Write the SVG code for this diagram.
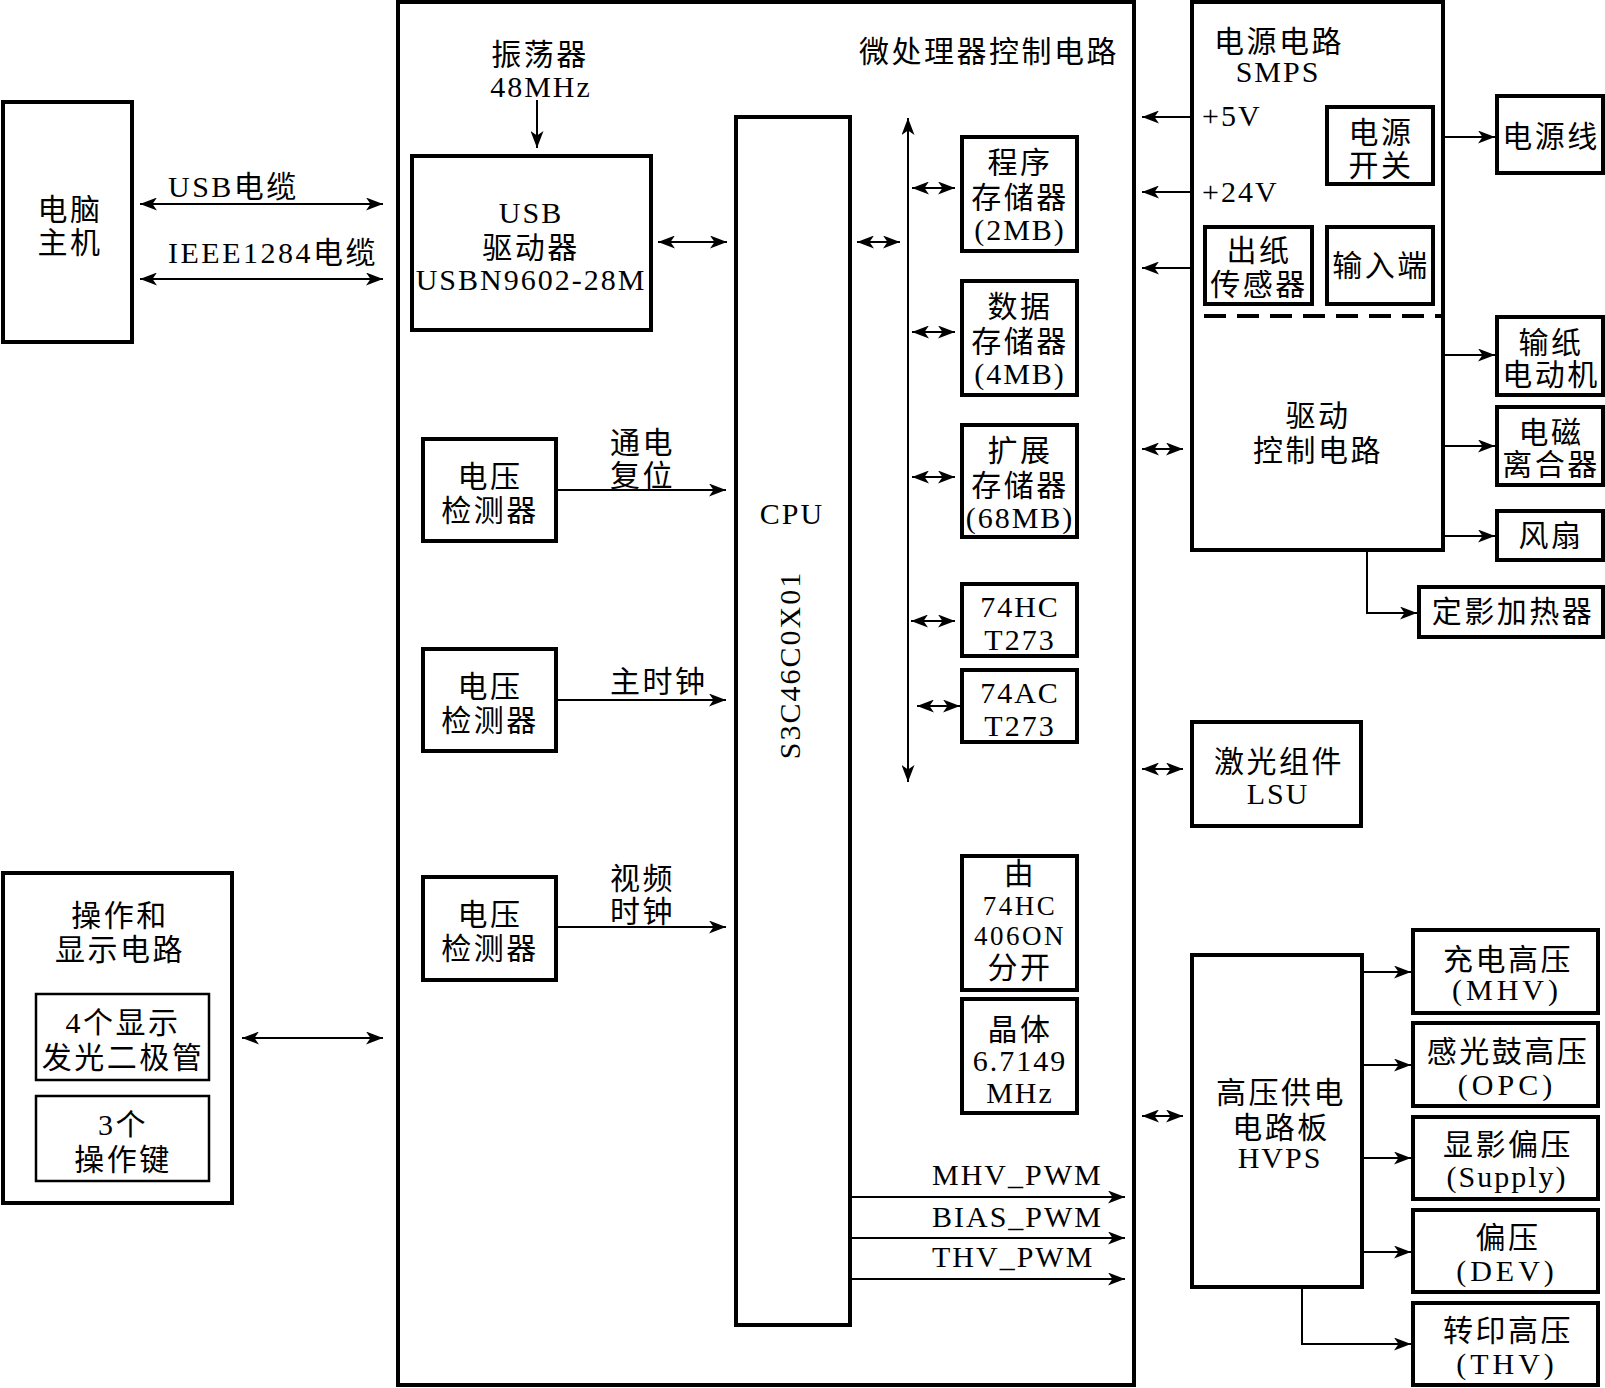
<svg xmlns="http://www.w3.org/2000/svg" width="1605" height="1388" viewBox="0 0 1605 1388">
<style>
  .b{fill:#fff;stroke:#000;stroke-width:4}
  .bt{fill:none;stroke:#000;stroke-width:2.5}
  .c{fill:none;stroke:#000;stroke-width:2}
  .t{font-family:"Liberation Serif","Noto Sans CJK SC",serif;font-size:30px;fill:#000;text-anchor:middle;letter-spacing:2px}
  .z{letter-spacing:2.5px}
  .l{text-anchor:start}
  .s{font-size:27px;letter-spacing:2.5px}
</style>
<defs>
  <marker id="a" viewBox="0 0 17 13" refX="17" refY="6.5" markerWidth="17" markerHeight="13" markerUnits="userSpaceOnUse" orient="auto-start-reverse">
    <path d="M0,0 L17,6.5 L0,13 L4.5,6.5 z" fill="#000"/>
  </marker>
</defs>
<rect width="1605" height="1388" fill="#fff"/>

<g id="computer">
  <rect class="b" x="3" y="102" width="129" height="240"/>
  <text class="t z" x="70" y="220">电脑</text>
  <text class="t z" x="70" y="253">主机</text>
</g>

<g id="main">
  <rect class="b" x="398" y="2" width="736" height="1383"/>
  <text class="t z" x="989" y="62">微处理器控制电路</text>
</g>

<g id="osc">
  <text class="t z" x="540" y="65">振荡器</text>
  <text class="t" x="541" y="97">48MHz</text>
</g>

<g id="usb">
  <rect class="b" x="412" y="156" width="239" height="174"/>
  <text class="t" x="531" y="223">USB</text>
  <text class="t z" x="531" y="258">驱动器</text>
  <text class="t" x="531" y="290">USBN9602-28M</text>
</g>

<g id="vd1">
  <rect class="b" x="423" y="439" width="133" height="102"/>
  <text class="t z" x="490" y="487">电压</text>
  <text class="t z" x="490" y="521">检测器</text>
</g>
<g id="vd2">
  <rect class="b" x="423" y="649" width="133" height="102"/>
  <text class="t z" x="490" y="697">电压</text>
  <text class="t z" x="490" y="731">检测器</text>
</g>
<g id="vd3">
  <rect class="b" x="423" y="877" width="133" height="103"/>
  <text class="t z" x="490" y="925">电压</text>
  <text class="t z" x="490" y="959">检测器</text>
</g>

<g id="cpu">
  <rect class="b" x="736" y="117" width="114" height="1208"/>
  <text class="t" x="792" y="524">CPU</text>
  <text class="t" transform="translate(800,665) rotate(-90)" x="0" y="0">S3C46C0X01</text>
</g>

<g id="mem-prog">
  <rect class="b" x="962" y="137" width="115" height="114"/>
  <text class="t z" x="1020" y="173">程序</text>
  <text class="t z" x="1020" y="208">存储器</text>
  <text class="t" x="1020" y="240">(2MB)</text>
</g>
<g id="mem-data">
  <rect class="b" x="962" y="281" width="115" height="114"/>
  <text class="t z" x="1020" y="317">数据</text>
  <text class="t z" x="1020" y="352">存储器</text>
  <text class="t" x="1020" y="384">(4MB)</text>
</g>
<g id="mem-ext">
  <rect class="b" x="962" y="425" width="115" height="112"/>
  <text class="t z" x="1020" y="461">扩展</text>
  <text class="t z" x="1020" y="496">存储器</text>
  <text class="t" x="1020" y="528">(68MB)</text>
</g>
<g id="hct273">
  <rect class="b" x="962" y="584" width="115" height="72"/>
  <text class="t" x="1020" y="617">74HC</text>
  <text class="t" x="1020" y="650">T273</text>
</g>
<g id="act273">
  <rect class="b" x="962" y="670" width="115" height="72"/>
  <text class="t" x="1020" y="703">74AC</text>
  <text class="t" x="1020" y="736">T273</text>
</g>
<g id="hc4060">
  <rect class="b" x="962" y="856" width="115" height="134"/>
  <text class="t z" x="1020" y="884">由</text>
  <text class="t s" x="1020" y="915">74HC</text>
  <text class="t s" x="1020" y="945">406ON</text>
  <text class="t z" x="1020" y="978">分开</text>
</g>
<g id="crystal">
  <rect class="b" x="962" y="999" width="115" height="114"/>
  <text class="t z" x="1020" y="1040">晶体</text>
  <text class="t" x="1020" y="1071">6.7149</text>
  <text class="t" x="1020" y="1103">MHz</text>
</g>

<g id="smps-drive">
  <rect class="b" x="1192" y="2" width="251" height="548"/>
  <line x1="1196" y1="316" x2="1441" y2="316" stroke="#000" stroke-width="4" stroke-dasharray="22 11" stroke-dashoffset="-8"/>
  <text class="t z" x="1279" y="52">电源电路</text>
  <text class="t" x="1278" y="82">SMPS</text>
  <text class="t l" x="1202" y="126">+5V</text>
  <text class="t l" x="1202" y="202">+24V</text>
  <text class="t z" x="1318" y="426">驱动</text>
  <text class="t z" x="1318" y="461">控制电路</text>
</g>
<g id="pswitch">
  <rect class="b" x="1327" y="107" width="106" height="77"/>
  <text class="t z" x="1381" y="143">电源</text>
  <text class="t z" x="1381" y="176">开关</text>
</g>
<g id="paper-sensor">
  <rect class="b" x="1205" y="227" width="107" height="77"/>
  <text class="t z" x="1259" y="261">出纸</text>
  <text class="t z" x="1259" y="295">传感器</text>
</g>
<g id="input">
  <rect class="b" x="1327" y="227" width="106" height="77"/>
  <text class="t z" x="1381" y="276">输入端</text>
</g>
<g id="powerline">
  <rect class="b" x="1497" y="96" width="106" height="77"/>
  <text class="t z" x="1551" y="147">电源线</text>
</g>
<g id="motor">
  <rect class="b" x="1497" y="317" width="106" height="78"/>
  <text class="t z" x="1551" y="353">输纸</text>
  <text class="t z" x="1551" y="385">电动机</text>
</g>
<g id="clutch">
  <rect class="b" x="1497" y="407" width="106" height="78"/>
  <text class="t z" x="1551" y="443">电磁</text>
  <text class="t z" x="1551" y="475">离合器</text>
</g>
<g id="fan">
  <rect class="b" x="1497" y="511" width="106" height="49"/>
  <text class="t z" x="1551" y="546">风扇</text>
</g>
<g id="heater">
  <rect class="b" x="1419" y="587" width="184" height="50"/>
  <text class="t z" x="1513" y="622">定影加热器</text>
</g>

<g id="lsu">
  <rect class="b" x="1192" y="722" width="169" height="104"/>
  <text class="t z" x="1279" y="772">激光组件</text>
  <text class="t" x="1278" y="804">LSU</text>
</g>

<g id="hvps">
  <rect class="b" x="1192" y="955" width="170" height="332"/>
  <text class="t z" x="1281" y="1103">高压供电</text>
  <text class="t z" x="1281" y="1138">电路板</text>
  <text class="t" x="1280" y="1168">HVPS</text>
</g>
<g id="mhv">
  <rect class="b" x="1413" y="930" width="185" height="83"/>
  <text class="t z" x="1508" y="970">充电高压</text>
  <text class="t" x="1507" y="1000" style="letter-spacing:4px">(MHV)</text>
</g>
<g id="opc">
  <rect class="b" x="1413" y="1023" width="185" height="83"/>
  <text class="t z" x="1508" y="1062">感光鼓高压</text>
  <text class="t" x="1507" y="1095" style="letter-spacing:4px">(OPC)</text>
</g>
<g id="supply">
  <rect class="b" x="1413" y="1117" width="185" height="82"/>
  <text class="t z" x="1508" y="1155">显影偏压</text>
  <text class="t" x="1507" y="1187">(Supply)</text>
</g>
<g id="dev">
  <rect class="b" x="1413" y="1210" width="185" height="82"/>
  <text class="t z" x="1508" y="1248">偏压</text>
  <text class="t" x="1507" y="1281" style="letter-spacing:4px">(DEV)</text>
</g>
<g id="thv">
  <rect class="b" x="1413" y="1303" width="185" height="82"/>
  <text class="t z" x="1508" y="1341">转印高压</text>
  <text class="t" x="1507" y="1374" style="letter-spacing:4px">(THV)</text>
</g>

<g id="panel">
  <rect class="b" x="3" y="873" width="229" height="330"/>
  <text class="t z" x="120" y="926">操作和</text>
  <text class="t z" x="120" y="960">显示电路</text>
  <rect class="bt" x="36" y="994" width="173" height="86"/>
  <text class="t z" x="123" y="1033">4个显示</text>
  <text class="t z" x="123" y="1068">发光二极管</text>
  <rect class="bt" x="36" y="1096" width="173" height="85"/>
  <text class="t z" x="123" y="1135">3个</text>
  <text class="t z" x="123" y="1170">操作键</text>
</g>

<g id="labels">
  <text class="t z l" x="168" y="197">USB电缆</text>
  <text class="t z l" x="168" y="263">IEEE1284电缆</text>
  <text class="t z l" x="610" y="453">通电</text>
  <text class="t z l" x="610" y="486">复位</text>
  <text class="t z l" x="610" y="692">主时钟</text>
  <text class="t z l" x="610" y="889">视频</text>
  <text class="t z l" x="610" y="922">时钟</text>
  <text class="t l" x="932" y="1185">MHV_PWM</text>
  <text class="t l" x="932" y="1227">BIAS_PWM</text>
  <text class="t l" x="932" y="1267">THV_PWM</text>
</g>

<g id="connectors">
  <line class="c" x1="140" y1="204" x2="383" y2="204" marker-start="url(#a)" marker-end="url(#a)"/>
  <line class="c" x1="140" y1="279" x2="383" y2="279" marker-start="url(#a)" marker-end="url(#a)"/>
  <line class="c" x1="242" y1="1038" x2="383" y2="1038" marker-start="url(#a)" marker-end="url(#a)"/>
  <line class="c" x1="537" y1="100" x2="537" y2="148" marker-end="url(#a)"/>
  <line class="c" x1="658" y1="242" x2="727" y2="242" marker-start="url(#a)" marker-end="url(#a)"/>
  <line class="c" x1="556" y1="490" x2="726" y2="490" marker-end="url(#a)"/>
  <line class="c" x1="556" y1="700" x2="726" y2="700" marker-end="url(#a)"/>
  <line class="c" x1="556" y1="927" x2="726" y2="927" marker-end="url(#a)"/>
  <line class="c" x1="857" y1="242" x2="900" y2="242" marker-start="url(#a)" marker-end="url(#a)"/>
  <line class="c" x1="908" y1="118" x2="908" y2="782" marker-start="url(#a)" marker-end="url(#a)"/>
  <line class="c" x1="912" y1="188" x2="955" y2="188" marker-start="url(#a)" marker-end="url(#a)"/>
  <line class="c" x1="912" y1="332" x2="955" y2="332" marker-start="url(#a)" marker-end="url(#a)"/>
  <line class="c" x1="912" y1="477" x2="955" y2="477" marker-start="url(#a)" marker-end="url(#a)"/>
  <line class="c" x1="911" y1="621" x2="955" y2="621" marker-start="url(#a)" marker-end="url(#a)"/>
  <line class="c" x1="917" y1="706" x2="960" y2="706" marker-start="url(#a)" marker-end="url(#a)"/>
  <line class="c" x1="850" y1="1197" x2="1125" y2="1197" marker-end="url(#a)"/>
  <line class="c" x1="850" y1="1238" x2="1125" y2="1238" marker-end="url(#a)"/>
  <line class="c" x1="850" y1="1279" x2="1125" y2="1279" marker-end="url(#a)"/>
  <line class="c" x1="1190" y1="117" x2="1142" y2="117" marker-end="url(#a)"/>
  <line class="c" x1="1190" y1="192" x2="1142" y2="192" marker-end="url(#a)"/>
  <line class="c" x1="1190" y1="268" x2="1142" y2="268" marker-end="url(#a)"/>
  <line class="c" x1="1142" y1="449" x2="1183" y2="449" marker-start="url(#a)" marker-end="url(#a)"/>
  <line class="c" x1="1142" y1="769" x2="1183" y2="769" marker-start="url(#a)" marker-end="url(#a)"/>
  <line class="c" x1="1142" y1="1116" x2="1183" y2="1116" marker-start="url(#a)" marker-end="url(#a)"/>
  <line class="c" x1="1445" y1="137" x2="1495" y2="137" marker-end="url(#a)"/>
  <line class="c" x1="1445" y1="355" x2="1495" y2="355" marker-end="url(#a)"/>
  <line class="c" x1="1445" y1="446" x2="1495" y2="446" marker-end="url(#a)"/>
  <line class="c" x1="1445" y1="536" x2="1495" y2="536" marker-end="url(#a)"/>
  <path class="c" d="M1367,552 V613 H1417" marker-end="url(#a)"/>
  <line class="c" x1="1364" y1="972" x2="1411" y2="972" marker-end="url(#a)"/>
  <line class="c" x1="1364" y1="1065" x2="1411" y2="1065" marker-end="url(#a)"/>
  <line class="c" x1="1364" y1="1158" x2="1411" y2="1158" marker-end="url(#a)"/>
  <line class="c" x1="1364" y1="1252" x2="1411" y2="1252" marker-end="url(#a)"/>
  <path class="c" d="M1302,1289 V1344 H1411" marker-end="url(#a)"/>
</g>
</svg>
